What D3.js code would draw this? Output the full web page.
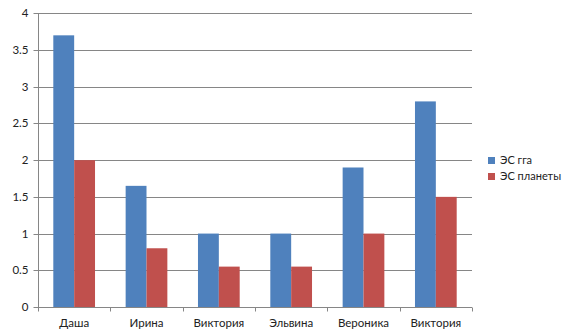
<!DOCTYPE html>
<html>
<head>
<meta charset="utf-8">
<script src="https://cdn.jsdelivr.net/npm/d3@7"></script>
<style>
  html, body { margin: 0; padding: 0; background: #fff; }
  svg { display: block; font-family: Lato, "Open Sans", sans-serif; }
</style>
</head>
<body>
<svg id="chart" width="576" height="336"></svg>
<script>
// Names along the category axis
const categories = ["Даша", "Ирина", "Виктория", "Эльвина", "Вероника", "Виктория"];
// Series names and values
const seriesNames = ["ЭС гга", "ЭС планеты"];
const esGga = [3.7, 1.65, 1.0, 1.0, 1.9, 2.8];
const esPlanet = [2.0, 0.8, 0.55, 0.55, 1.0, 1.5];
const yTicks = [0, 0.5, 1, 1.5, 2, 2.5, 3, 3.5, 4];
const colors = ["#4F81BD", "#C0504D"];

const svg = d3.select("#chart");
const plotLeft = 38, plotRight = 472, plotTop = 13.3, plotBottom = 307;
const gridColor = "#868686";

const x = d3.scaleBand().domain(d3.range(categories.length)).range([plotLeft, plotRight]).paddingInner(0).paddingOuter(0);
const inner = d3.scaleBand().domain([0, 1]).range([0, x.bandwidth()]).paddingOuter(0.734).paddingInner(0);
const y = d3.scaleLinear().domain([0, 4]).range([plotBottom, plotTop]);

// Horizontal gridlines
svg.append("g").selectAll("line").data(yTicks.filter(d => d > 0)).join("line")
  .attr("x1", plotLeft).attr("x2", plotRight)
  .attr("y1", d => Math.round(y(d)) + 0.5).attr("y2", d => Math.round(y(d)) + 0.5)
  .attr("stroke", gridColor).attr("stroke-width", 1);

// Bars
const series = [esGga, esPlanet];
const groups = svg.append("g").selectAll("g").data(series).join("g").attr("fill", (d, i) => colors[i]);
groups.each(function(vals, si) {
  d3.select(this).selectAll("rect").data(vals).join("rect")
    .attr("x", (d, i) => x(i) + inner(si))
    .attr("width", inner.bandwidth())
    .attr("y", d => y(d))
    .attr("height", d => y(0) - y(d));
});

// Value axis
const yAxis = svg.append("g").attr("transform", `translate(${plotLeft + 0.5},0)`)
  .call(d3.axisLeft(y).tickValues(yTicks).tickFormat(d3.format("")).tickSize(5).tickPadding(5));
yAxis.select(".domain").attr("stroke", gridColor).attr("d", `M0,${plotTop}V${plotBottom}`);
yAxis.selectAll(".tick").attr("transform", d => `translate(0,${Math.round(y(d)) + 0.5})`);
yAxis.selectAll(".tick line").attr("stroke", gridColor);
yAxis.selectAll(".tick text").attr("fill", "#222").style("font-size", "11.5px").style("font-family", "Lato, sans-serif");

// Category axis
const xAxis = svg.append("g").attr("transform", `translate(0,${Math.round(plotBottom) + 0.5})`);
xAxis.append("line").attr("x1", plotLeft).attr("x2", plotRight).attr("stroke", gridColor);
xAxis.selectAll("line.tk").data(d3.range(categories.length + 1)).join("line").attr("class", "tk")
  .attr("x1", i => Math.round(plotLeft + i * x.bandwidth()) + 0.5)
  .attr("x2", i => Math.round(plotLeft + i * x.bandwidth()) + 0.5)
  .attr("y1", 0).attr("y2", 4).attr("stroke", gridColor);
xAxis.selectAll("text").data(categories).join("text")
  .attr("x", (d, i) => x(i) + x.bandwidth() / 2)
  .attr("y", 19)
  .attr("text-anchor", "middle")
  .attr("fill", "#222")
  .style("font-size", "11.5px")
  .text(d => d);

// Legend
const legend = svg.append("g").attr("transform", "translate(488,156)");
const items = legend.selectAll("g").data(seriesNames).join("g")
  .attr("transform", (d, i) => `translate(0,${i * 16})`);
items.append("rect").attr("width", 7).attr("height", 7).attr("y", 1).attr("fill", (d, i) => colors[i]);
items.append("text").attr("x", 12).attr("y", 8).attr("fill", "#222").style("font-size", "11px").text(d => d);
</script>
</body>
</html>
